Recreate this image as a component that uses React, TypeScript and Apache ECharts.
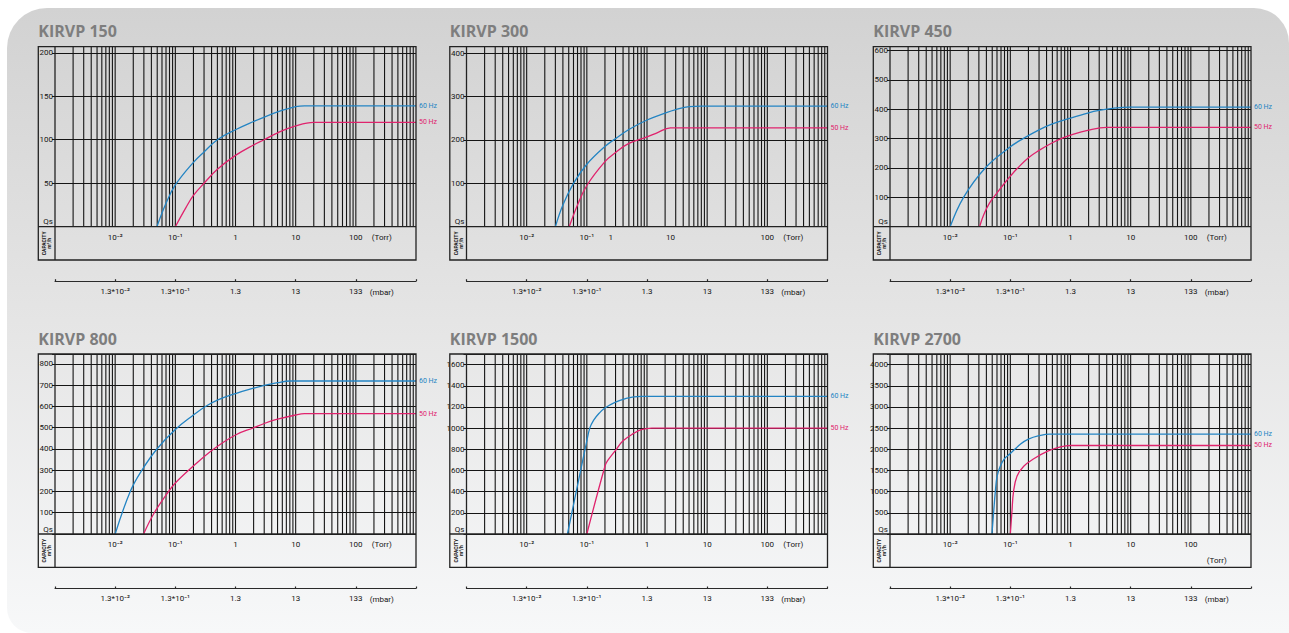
import React, { useEffect, useRef } from "react";
import * as echarts from "echarts";

// ---------- DATA ----------
const panelTitles = ["KIRVP 150", "KIRVP 300", "KIRVP 450", "KIRVP 800", "KIRVP 1500", "KIRVP 2700"];
const yMaxValues = [207, 415, 613, 847, 1700, 4250];
const yIntervals = [50, 100, 100, 100, 200, 500];

// [pressure (Torr), capacity (m3/h)]
const cap150_60 = [[0.0494, 0], [0.07, 27], [0.1, 48], [0.2, 74], [0.3, 86], [0.5, 100], [1, 111.5], [2, 121], [3, 126], [5, 132], [10, 138], [14, 139], [1000, 139]];
const cap150_50 = [[0.1, 0], [0.15, 22], [0.2, 36], [0.3, 50], [0.5, 66], [1, 82], [2, 94], [3, 100], [5, 108], [10, 116], [20, 120], [1000, 120]];

const cap300_60 = [[0.03, 0], [0.04, 50], [0.06, 100], [0.1, 144], [0.2, 185], [0.3, 203], [0.5, 224], [1, 246], [2, 262], [3, 270], [5, 277], [8, 278], [1000, 278]];
const cap300_50 = [[0.051, 0], [0.07, 50], [0.1, 95], [0.2, 150], [0.3, 171], [0.5, 192], [1, 207], [1.5, 217], [2.45, 228], [1000, 228]];

const cap450_60 = [[0.01, 0], [0.0167, 100], [0.0383, 200], [0.1, 272], [0.163, 300], [0.3, 330], [0.5, 350], [1, 370], [2, 388], [3, 396], [5, 403], [10, 407], [1000, 407]];
const cap450_50 = [[0.0308, 0], [0.036, 40], [0.045, 80], [0.06, 115], [0.08, 148], [0.1, 172], [0.13, 198], [0.2, 235], [0.3, 260], [0.5, 286], [0.7, 300], [1, 312], [2, 329], [4, 338], [1000, 338]];

const cap800_60 = [[0.01, 0], [0.0178, 200], [0.0278, 300], [0.0494, 400], [0.1, 492], [0.2, 560], [0.316, 600], [0.5, 630], [1, 661], [2, 686], [3, 699], [5, 712], [8, 720], [1000, 720]];
const cap800_50 = [[0.0297, 0], [0.0447, 100], [0.0774, 200], [0.1, 240], [0.2, 320], [0.435, 400], [1, 466], [2, 500], [3, 520], [5, 540], [10, 560], [14, 566], [1000, 566]];

const cap1500_60 = [[0.0476, 0], [0.1, 880], [0.112, 1000], [0.13, 1075], [0.16, 1140], [0.2, 1190], [0.3, 1245], [0.45, 1280], [0.6, 1295], [0.8, 1300], [1000, 1300]];
const cap1500_50 = [[0.1, 0], [0.2, 640], [0.22, 690], [0.3, 790], [0.4, 880], [0.6, 950], [0.8, 985], [1.2, 1000], [1000, 1000]];

const cap2700_60 = [[0.0495, 0], [0.0527, 500], [0.0563, 1000], [0.06, 1350], [0.068, 1600], [0.08, 1780], [0.1, 1900], [0.15, 2130], [0.2, 2240], [0.3, 2320], [0.45, 2360], [1000, 2360]];
const cap2700_50 = [[0.1, 0], [0.106, 500], [0.113, 1000], [0.129, 1365], [0.167, 1600], [0.245, 1775], [0.41, 1950], [0.68, 2055], [1, 2090], [1000, 2090]];

const series60 = [cap150_60, cap300_60, cap450_60, cap800_60, cap1500_60, cap2700_60];
const series50 = [cap150_50, cap300_50, cap450_50, cap800_50, cap1500_50, cap2700_50];

const decadeStarts = [0.001, 0.01, 0.1, 1, 10, 100];
const gridMultipliers = [1, 2, 3, 4, 5, 6, 7, 8, 9];
const torrLabels = ["10\u207B\u00B2", "10\u207B\u00B9", "1", "10", "100"];
const torrPositionsStd = [0.01, 0.1, 1, 10, 100];
const torrPositionsP300 = [0.01, 0.1, 0.25, 2.45, 100];
const torrPositions = [torrPositionsStd, torrPositionsP300, torrPositionsStd, torrPositionsStd, torrPositionsStd, torrPositionsStd];
const mbarLabels = ["1.3*10\u207B\u00B2", "1.3*10\u207B\u00B9", "1.3", "13", "133"];
const mbarPositions = [0.01, 0.1, 1, 10, 100];
const unitLabelX = 270;

// ---------- STYLE / LAYOUT ----------
const BLUE = "#2384c3";
const PINK = "#e0236d";
const INK = "#151515";
const COL_LEFT = [55, 466.5, 890];
const ROW_TOP = [46.7, 354];
const PLOT_W = 361;
const PLOT_H = 180;
const LABEL_COL = 16.7;
const STRIP_H = 33.3;
const MBAR_OFFSET = 54.5;
const FONT = "Roboto, 'Liberation Sans', sans-serif";

const gridXs = decadeStarts
  .flatMap((d) => gridMultipliers.map((m) => d * m))
  .filter((v) => v > 0.0011);

export default function App() {
  const ref = useRef<HTMLDivElement>(null);

  useEffect(() => {
    const chart = echarts.init(ref.current!, null, { renderer: "svg" });
    const grids: any[] = [];
    const xAxes: any[] = [];
    const yAxes: any[] = [];
    const series: any[] = [];

    for (let i = 0; i < 6; i++) {
      const col = i % 3;
      const row = Math.floor(i / 3);
      const interval = yIntervals[i];
      grids.push({ left: COL_LEFT[col], top: ROW_TOP[row], width: PLOT_W, height: PLOT_H, show: false });
      xAxes.push({
        gridIndex: i, type: "log", logBase: 10, min: 0.001, max: 1000, position: "bottom",
        axisLine: { show: false }, axisTick: { show: false }, axisLabel: { show: false }, splitLine: { show: false },
      });
      xAxes.push({
        gridIndex: i, type: "log", logBase: 10, min: 0.001, max: 1000, position: "bottom", offset: MBAR_OFFSET,
        axisLine: { show: true, lineStyle: { color: "#2a2a2a", width: 1 } },
        axisTick: { show: true, inside: true, length: 2, lineStyle: { color: "#2a2a2a", width: 1.2 } },
        axisLabel: {
          show: true, fontSize: 8, color: INK, margin: 6, fontFamily: FONT,
          formatter: (v: number) => {
            const k = Math.round(Math.log10(v));
            const idx = mbarPositions.findIndex((p) => Math.round(Math.log10(p)) === k);
            return idx >= 0 ? mbarLabels[idx] : "";
          },
        },
        splitLine: { show: false },
      });
      yAxes.push({
        gridIndex: i, type: "value", min: 0, max: yMaxValues[i], interval,
        axisLine: { show: false },
        axisTick: { show: true, length: 3, lineStyle: { color: INK, width: 1 } },
        axisLabel: {
          fontSize: 8, color: INK, margin: 2, fontFamily: FONT,
          formatter: (v: number) => (v === 0 ? "{q|Qs}" : v % interval === 0 ? String(v) : ""),
          rich: { q: { fontSize: 8, color: INK, padding: [0, 0, 10, 0], fontFamily: FONT } },
        },
        splitLine: { show: true, lineStyle: { color: INK, width: 1.1 } },
      });
      series.push({
        type: "custom", xAxisIndex: 2 * i, yAxisIndex: i, silent: true, z: 1, clip: false,
        data: gridXs.map((v) => [v, 0]),
        renderItem: (params: any, api: any) => {
          const cs = params.coordSys;
          const x = api.coord([api.value(0), 0])[0];
          return {
            type: "line",
            shape: { x1: x, y1: cs.y, x2: x, y2: cs.y + cs.height },
            style: { stroke: INK, lineWidth: 1.1 },
          };
        },
      });
      series.push({
        type: "line", name: "60 Hz", xAxisIndex: 2 * i, yAxisIndex: i, data: series60[i],
        showSymbol: false, symbol: "none", smooth: 0.4, z: 3,
        lineStyle: { color: BLUE, width: 1.3 }, itemStyle: { color: BLUE },
        endLabel: { show: true, formatter: "60 Hz", color: BLUE, fontSize: 7, distance: 3, fontFamily: FONT },
      });
      series.push({
        type: "line", name: "50 Hz", xAxisIndex: 2 * i, yAxisIndex: i, data: series50[i],
        showSymbol: false, symbol: "none", smooth: 0.4, z: 3,
        lineStyle: { color: PINK, width: 1.3 }, itemStyle: { color: PINK },
        endLabel: { show: true, formatter: "50 Hz", color: PINK, fontSize: 7, distance: 3, fontFamily: FONT },
      });
    }

    chart.setOption({
      animation: false,
      textStyle: { fontFamily: FONT },
      grid: grids,
      xAxis: xAxes,
      yAxis: yAxes,
      series,
    });

    const g: any[] = [];
    g.push({
      type: "rect", z: -10, silent: true,
      shape: { x: 7, y: 8, width: 1282, height: 625, r: [40, 35, 0, 25] },
      style: {
        fill: new echarts.graphic.LinearGradient(0, 0, 0, 1, [
          { offset: 0, color: "#d2d2d2" },
          { offset: 0.5, color: "#e5e5e5" },
          { offset: 1, color: "#f7f8f9" },
        ]),
      },
    });

    for (let i = 0; i < 6; i++) {
      const col = i % 3;
      const row = Math.floor(i / 3);
      const left = COL_LEFT[col];
      const top = ROW_TOP[row];
      const bottom = top + PLOT_H;
      const frameLeft = left - LABEL_COL;
      g.push({
        type: "text", z: 5, x: frameLeft, y: top - 15.5,
        style: { text: panelTitles[i], fill: "#7e7e7e", font: "bold 16px 'Open Sans', sans-serif", textAlign: "left", textVerticalAlign: "middle" },
      });
      g.push({
        type: "rect", z: 5, silent: true,
        shape: { x: frameLeft, y: top, width: LABEL_COL + PLOT_W, height: PLOT_H + STRIP_H },
        style: { fill: "none", stroke: "#222", lineWidth: 1.3 },
      });
      g.push({
        type: "line", z: 5, silent: true,
        shape: { x1: left, y1: top, x2: left, y2: bottom + STRIP_H },
        style: { stroke: "#222", lineWidth: 1.3 },
      });
      g.push({
        type: "line", z: 5, silent: true,
        shape: { x1: frameLeft, y1: bottom, x2: left + PLOT_W, y2: bottom },
        style: { stroke: "#222", lineWidth: 1.3 },
      });
      g.push({
        type: "text", z: 5, x: frameLeft + LABEL_COL / 2, y: bottom + STRIP_H / 2, rotation: Math.PI / 2,
        style: { text: "CAPACITY\nm\u00B3/h", fill: INK, font: "bold 5px " + FONT, textAlign: "center", textVerticalAlign: "middle", lineHeight: 5 },
      });
      const tp = torrPositions[i];
      for (let k = 0; k < tp.length; k++) {
        const px = chart.convertToPixel({ xAxisIndex: 2 * i }, tp[k]) as unknown as number;
        g.push({
          type: "text", z: 5, x: px, y: bottom + 10.5,
          style: { text: torrLabels[k], fill: INK, font: "8px " + FONT, textAlign: "center", textVerticalAlign: "middle" },
        });
      }
      const ux = chart.convertToPixel({ xAxisIndex: 2 * i }, unitLabelX) as unknown as number;
      g.push({
        type: "text", z: 5, x: ux, y: i === 5 ? bottom + 26.7 : bottom + 10.5,
        style: { text: "(Torr)", fill: INK, font: "8px " + FONT, textAlign: "center", textVerticalAlign: "middle" },
      });
      g.push({
        type: "text", z: 5, x: ux, y: bottom + MBAR_OFFSET + 11,
        style: { text: "(mbar)", fill: INK, font: "8px " + FONT, textAlign: "center", textVerticalAlign: "middle" },
      });
    }

    chart.setOption({ graphic: g });

    return () => chart.dispose();
  }, []);

  return (
    <div
      ref={ref}
      style={{ position: "fixed", left: 0, top: 0, width: 1289, height: 633, background: "#ffffff" }}
    />
  );
}
